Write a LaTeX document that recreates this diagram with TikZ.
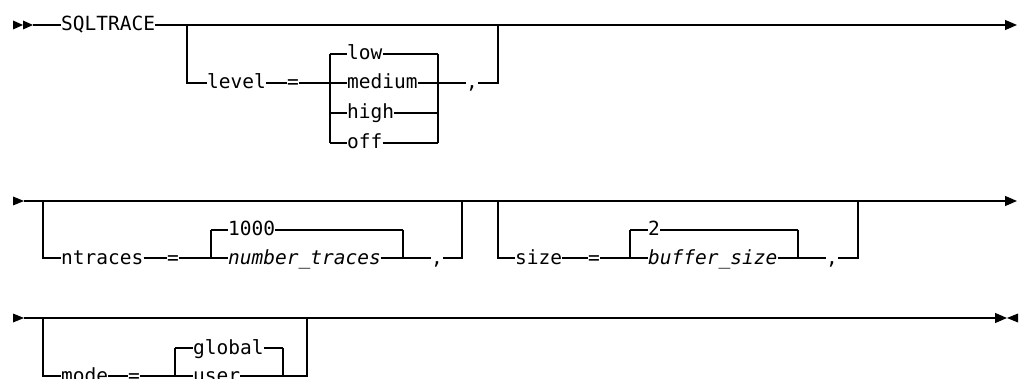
\documentclass[tikz,border=0pt]{standalone}
\usepackage{fontspec}
\setmonofont{DejaVu Sans Mono}
\usetikzlibrary{arrows.meta,positioning}
\tikzset{
  kw/.style={inner sep=0pt,text height=12pt,text depth=0pt,anchor=west,
             font=\fontsize{19.5}{22}\selectfont\ttfamily},
  var/.style={kw,font=\fontsize{19.5}{22}\selectfont\ttfamily\itshape},
  trk/.style={line width=1.2pt},
  fwd/.style={trk,-{Triangle[length=12pt,width=10pt]}},
  tip/.style={fill=black},
}
\begin{document}
\begin{tikzpicture}[x=1pt,y=-1pt]
  \useasboundingbox (0,0) rectangle (1019,379);
  % row 1
  \coordinate (r1s) at (33,25);
  \coordinate (r1e) at (1017,25);
  \coordinate (b1a) at (187,25);
  \coordinate (b1b) at (498,25);
  \coordinate (c1l) at (330,0);
  \coordinate (c1r) at (438,0);
  \node[kw] (sql) at (61,25) {SQLTRACE};
  \node[kw] (lvl) at (207,83) {level};
  \node[kw] (lvleq) at (287,83) {=};
  \node[kw] (low) at (347,54) {low};
  \node[kw] (medium) at (347,83) {medium};
  \node[kw] (high) at (347,113) {high};
  \node[kw] (off) at (347,143) {off};
  \node[kw] (lvlcm) at (466,83) {,};
  \fill[tip,shift={(r1s)}] (-20,-4.5) -- (-10,0) -- (-20,4.5) -- cycle
                          (-10,-4.5) -- (0,0) -- (-10,4.5) -- cycle;
  \draw[trk] (r1s) -- (sql);
  \draw[fwd] (sql.east) -- (r1e);
  \draw[trk] (b1a) |- (lvl.west);
  \draw[trk] (lvl) -- (lvleq);
  \draw[trk] (lvleq.east) -- (c1l |- medium);
  \foreach \n in {low,medium,high,off}
    {\draw[trk] (c1l |- \n) -- (\n.west) (\n.east) -- (c1r |- \n);}
  \draw[trk] (c1l |- low) -- (c1l |- off) (c1r |- low) -- (c1r |- off);
  \draw[trk] (c1r |- medium) -- (lvlcm);
  \draw[trk] (lvlcm.east) -| (b1b);
  % row 2
  \coordinate (r2s) at (24,201);
  \coordinate (r2e) at (1017,201);
  \coordinate (b2a) at (43,201);
  \coordinate (b2b) at (462,201);
  \coordinate (b3a) at (498,201);
  \coordinate (b3b) at (858,201);
  \coordinate (c2l) at (211,0);
  \coordinate (c2r) at (403,0);
  \coordinate (c3l) at (630,0);
  \coordinate (c3r) at (798,0);
  \node[kw] (ntr) at (61,258) {ntraces};
  \node[kw] (ntreq) at (167,258) {=};
  \node[kw] (ntrdef) at (228,230) {1000};
  \node[var] (ntrval) at (228,258) {number\_traces};
  \node[kw] (ntrcm) at (431,258) {,};
  \node[kw] (sz) at (515,258) {size};
  \node[kw] (szeq) at (588,258) {=};
  \node[kw] (szdef) at (648,230) {2};
  \node[var] (szval) at (648,258) {buffer\_size};
  \node[kw] (szcm) at (826,258) {,};
  \fill[tip,shift={(r2s)}] (-11,-4.5) -- (0,0) -- (-11,4.5) -- cycle;
  \draw[fwd] (r2s) -- (r2e);
  \draw[trk] (b2a) |- (ntr.west);
  \draw[trk] (ntr) -- (ntreq);
  \draw[trk] (ntreq.east) -- (c2l |- ntrval);
  \foreach \n in {ntrdef,ntrval}
    {\draw[trk] (c2l |- \n) -- (\n.west) (\n.east) -- (c2r |- \n);}
  \draw[trk] (c2l |- ntrdef) -- (c2l |- ntrval) (c2r |- ntrdef) -- (c2r |- ntrval);
  \draw[trk] (c2r |- ntrval) -- (ntrcm);
  \draw[trk] (ntrcm.east) -| (b2b);
  \draw[trk] (b3a) |- (sz.west);
  \draw[trk] (sz) -- (szeq);
  \draw[trk] (szeq.east) -- (c3l |- szval);
  \foreach \n in {szdef,szval}
    {\draw[trk] (c3l |- \n) -- (\n.west) (\n.east) -- (c3r |- \n);}
  \draw[trk] (c3l |- szdef) -- (c3l |- szval) (c3r |- szdef) -- (c3r |- szval);
  \draw[trk] (c3r |- szval) -- (szcm);
  \draw[trk] (szcm.east) -| (b3b);
  % row 3
  \coordinate (r3s) at (24,318);
  \coordinate (r3e) at (1007,318);
  \coordinate (b4a) at (43,318);
  \coordinate (b4b) at (307,318);
  \coordinate (c4l) at (175,0);
  \coordinate (c4r) at (283,0);
  \node[kw] (md) at (61,376) {mode};
  \node[kw] (mdeq) at (128,376) {=};
  \node[kw] (glob) at (193,348) {global};
  \node[kw] (usr) at (193,376) {user};
  \fill[tip,shift={(r3s)}] (-11,-4.5) -- (0,0) -- (-11,4.5) -- cycle;
  \fill[tip,shift={(r3e)}] (11,-4.5) -- (0,0) -- (11,4.5) -- cycle;
  \draw[fwd] (r3s) -- (r3e);
  \draw[trk] (b4a) |- (md.west);
  \draw[trk] (md) -- (mdeq);
  \draw[trk] (mdeq.east) -- (c4l |- usr);
  \foreach \n in {glob,usr}
    {\draw[trk] (c4l |- \n) -- (\n.west) (\n.east) -- (c4r |- \n);}
  \draw[trk] (c4l |- glob) -- (c4l |- usr) (c4r |- glob) -- (c4r |- usr);
  \draw[trk] (c4r |- usr) -| (b4b);
\end{tikzpicture}
\end{document}
